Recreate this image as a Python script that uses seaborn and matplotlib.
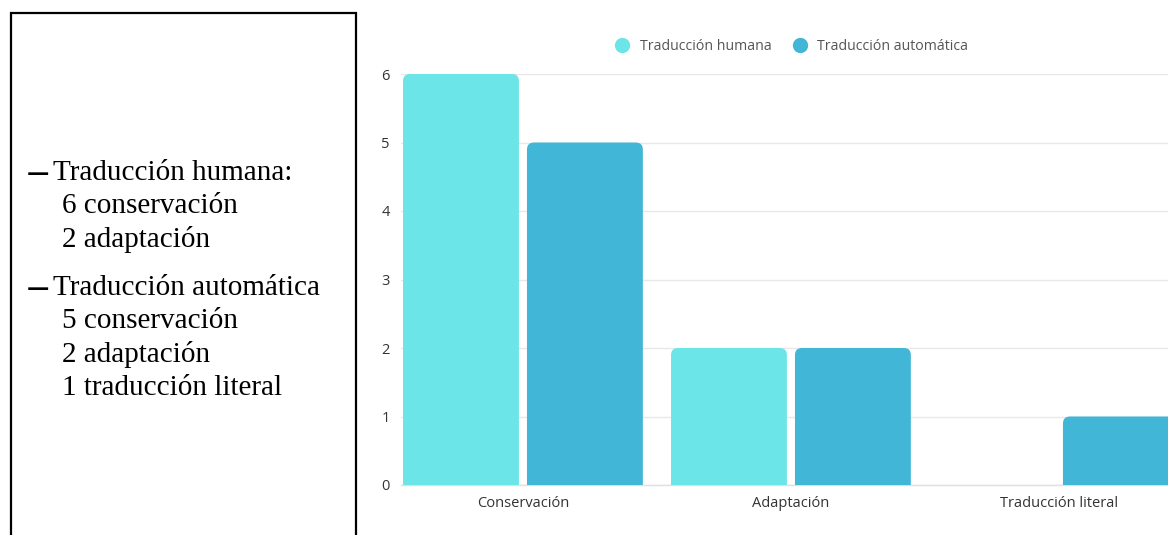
import matplotlib
matplotlib.use("Agg")
import matplotlib.pyplot as plt
from matplotlib.patches import FancyBboxPatch, Rectangle
from matplotlib.lines import Line2D
import seaborn as sns
import pandas as pd

# Data
categories = ["Conservación", "Adaptación", "Traducción literal"]
series = ["Traducción humana", "Traducción automática"]
humana = [6, 2, 0]
automatica = [5, 2, 1]
colors = ["#6ce5e9", "#42b6d6"]
yticks = [0, 1, 2, 3, 4, 5, 6]

notes = [
    ("—", "Traducción humana:"),
    ("", "6 conservación"),
    ("", "2 adaptación"),
    ("—", "Traducción automática"),
    ("", "5 conservación"),
    ("", "2 adaptación"),
    ("", "1 traducción literal"),
]

df = pd.DataFrame({
    "categoria": categories * 2,
    "serie": [series[0]] * 3 + [series[1]] * 3,
    "valor": humana + automatica,
})

sns.set_theme(style="white")
plt.rcParams["font.family"] = ["Open Sans", "DejaVu Sans"]

W, H = 1168, 535
fig = plt.figure(figsize=(W / 100, H / 100), dpi=100)
ax = fig.add_axes([401 / W, 1 - 485 / H, (W - 401) / W, (485 - 74) / H])

sns.barplot(data=df, x="categoria", y="valor", hue="serie", order=categories,
            hue_order=series, palette=colors, width=0.925, gap=0.065,
            saturation=1, legend=False, ax=ax, zorder=3)

ax.set_xlim(-0.455, 2.407)
ax.set_ylim(0, 6)
ax.set_yticks(yticks)
ax.set_yticklabels([str(v) for v in yticks])
ax.set_xlabel("")
ax.set_ylabel("")
ax.grid(axis="y", color="#e8e8e8", linewidth=1.0, zorder=0)
ax.grid(axis="x", visible=False)
for side in ["left", "right", "top"]:
    ax.spines[side].set_visible(False)
ax.spines["bottom"].set_color("#e0e0e0")
ax.spines["bottom"].set_linewidth(1.0)
ax.tick_params(axis="both", length=0, labelsize=10.5, labelcolor="#333333")
ax.tick_params(axis="y", pad=8)
ax.tick_params(axis="x", pad=8)

# Rounded top corners on the bars (bottom corners are hidden below the axis)
p0 = ax.transData.transform((0, 0))
p1 = ax.transData.transform((1, 1))
px_x = p1[0] - p0[0]
px_y = abs(p1[1] - p0[1])
r_px = 7
rx = r_px / px_x
ry = r_px / px_y
for bar in list(ax.patches):
    x, w, h = bar.get_x(), bar.get_width(), bar.get_height()
    fc = bar.get_facecolor()
    bar.remove()
    if h <= 0:
        continue
    rounded = FancyBboxPatch((x, -ry), w, h + ry,
                             boxstyle=f"round,pad=0,rounding_size={rx}",
                             mutation_aspect=ry / rx, facecolor=fc,
                             edgecolor="none", zorder=3)
    ax.add_patch(rounded)

# Legend with circular markers
handles = [Line2D([], [], marker="o", linestyle="none", markersize=10,
                  markerfacecolor=c, markeredgecolor=c) for c in colors]
fig.legend(handles, series, loc="center", bbox_to_anchor=(788 / W, 1 - 46 / H),
           ncol=2, frameon=False, fontsize=10.2, handletextpad=0.25,
           columnspacing=1.0, labelcolor="#555555")

# Left text panel with border
fig.patches.append(Rectangle((11 / W, -0.05), (356 - 11) / W, 1.05 - 13 / H,
                             transform=fig.transFigure, fill=False,
                             edgecolor="black", linewidth=1.6))
baselines = [180, 213, 247, 295, 328, 362, 395]
serif = "Liberation Serif"
for (dash, txt), yb in zip(notes, baselines):
    if dash:
        fig.text(27 / W, 1 - yb / H, dash, family="DejaVu Sans", fontsize=16,
                 fontweight="bold", color="black", va="baseline", ha="left")
        fig.text(53 / W, 1 - yb / H, txt, family=serif, fontsize=21,
                 color="black", va="baseline", ha="left")
    else:
        fig.text(62 / W, 1 - yb / H, txt, family=serif, fontsize=21,
                 color="black", va="baseline", ha="left")

fig.savefig("out.png", dpi=100)
